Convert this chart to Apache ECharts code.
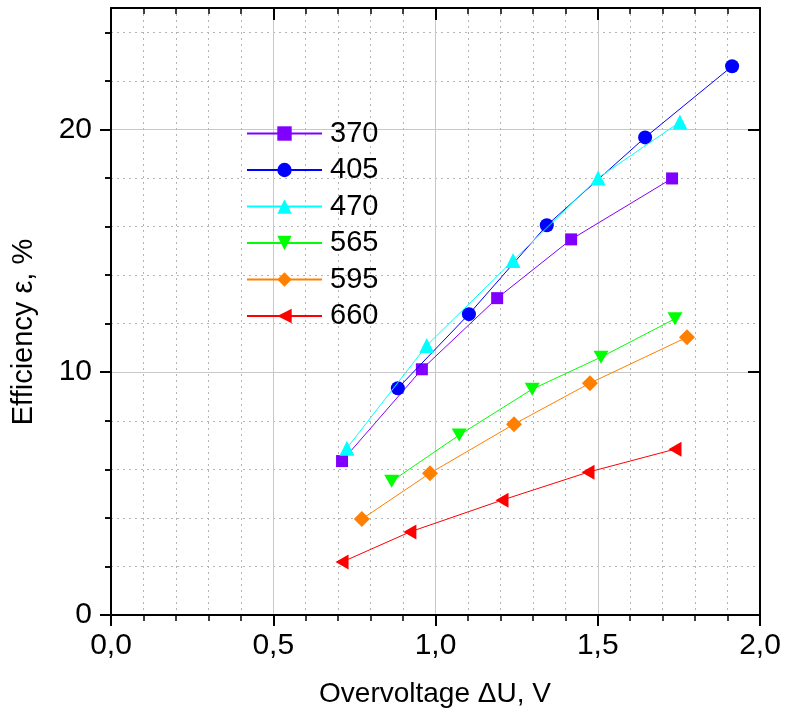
<!DOCTYPE html>
<html><head><meta charset="utf-8">
<script src="https://cdn.jsdelivr.net/npm/echarts@6/dist/echarts.min.js"></script>
<style>html,body{margin:0;padding:0;background:#fff}#c{width:786px;height:713px}</style>
</head><body><div id="c"></div>
<script>
const seriesNames = ['370', '405', '470', '565', '595', '660'];
const x370 = [0.712, 0.958, 1.190, 1.418, 1.729];
const y370 = [6.34, 10.12, 13.05, 15.47, 17.98];
const x405 = [0.884, 1.103, 1.343, 1.646, 1.914];
const y405 = [9.34, 12.39, 16.05, 19.67, 22.60];
const x470 = [0.727, 0.973, 1.239, 1.501, 1.753];
const y470 = [6.87, 11.10, 14.60, 18.00, 20.30];
const x565 = [0.865, 1.073, 1.298, 1.510, 1.738];
const y565 = [5.51, 7.41, 9.30, 10.62, 12.20];
const x595 = [0.773, 0.983, 1.242, 1.476, 1.775];
const y595 = [3.95, 5.84, 7.86, 9.55, 11.44];
const x660 = [0.712, 0.921, 1.205, 1.470, 1.738];
const y660 = [2.18, 3.42, 4.73, 5.88, 6.83];
const yMajorTicks = [0, 10, 20];
const yMinorTicks = [2, 4, 6, 8, 12, 14, 16, 18, 22, 24];
const xTitle = 'Overvoltage \u0394U, V';
const yTitle = 'Efficiency \u03b5, %';

const FONT = "'Liberation Sans', Arial, sans-serif";
const pairs = (xs, ys) => xs.map((x, i) => [x, ys[i]]);
const styles = [
  {c: '#8000FF', s: 'rect', size: 12, rot: 0},
  {c: '#0000FF', s: 'circle', size: 14, rot: 0},
  {c: '#00FFFF', s: 'triangle', size: 15, rot: 0},
  {c: '#00FF00', s: 'triangle', size: [15, 13], rot: 180},
  {c: '#FF8000', s: 'diamond', size: 16, rot: 0},
  {c: '#FF0000', s: 'triangle', size: [15, 13], rot: 90}
];
const datas = [pairs(x370, y370), pairs(x405, y405), pairs(x470, y470),
               pairs(x565, y565), pairs(x595, y595), pairs(x660, y660)];

const chart = echarts.init(document.getElementById('c'), null, {renderer: 'canvas'});
const black = '#000';
const gridGray = '#c8c8c8';
const dotGray = '#b4b4b4';

const option = {
  animation: false,
  backgroundColor: '#fff',
  grid: {left: 111, right: 26, top: 8, bottom: 98, containLabel: false},
  legend: {
    orient: 'vertical', left: 246, top: 119, padding: 0,
    itemWidth: 75, itemHeight: 18, itemGap: 7.5,
    data: seriesNames,
    textStyle: {fontFamily: FONT, fontSize: 29, color: black, lineHeight: 28, padding: [0, 0, 0, 3]}
  },
  xAxis: [
    {
      type: 'value', position: 'bottom', min: 0, max: 2, interval: 0.5,
      axisLine: {show: true, onZero: false, lineStyle: {color: black, width: 2}},
      axisTick: {show: true, inside: false, length: 11, lineStyle: {color: black, width: 2}},
      minorTick: {show: true, splitNumber: 5, length: 6, lineStyle: {color: black, width: 1.5}},
      splitLine: {show: true, lineStyle: {color: gridGray, width: 1}},
      minorSplitLine: {show: true, lineStyle: {color: dotGray, width: 1, type: [2, 4]}},
      axisLabel: {show: true, margin: 16, fontFamily: FONT, fontSize: 30, color: black,
        formatter: v => v.toFixed(1).replace('.', ',')}
    },
    {
      type: 'value', position: 'top', min: 0, max: 2, interval: 0.5,
      axisLine: {show: true, onZero: false, lineStyle: {color: black, width: 2}},
      axisTick: {show: true, inside: true, length: 12, lineStyle: {color: black, width: 2}},
      minorTick: {show: true, splitNumber: 5, length: 6, lineStyle: {color: black, width: 1.5}},
      splitLine: {show: false},
      axisLabel: {show: false}
    }
  ],
  yAxis: [
    {
      type: 'value', position: 'left', min: 0, max: 25, interval: 10,
      axisLine: {show: true, onZero: false, lineStyle: {color: black, width: 2}},
      axisTick: {show: true, inside: false, length: 11, customValues: yMajorTicks, lineStyle: {color: black, width: 2}},
      splitLine: {show: true, lineStyle: {color: gridGray, width: 1}},
      axisLabel: {show: true, margin: 19, customValues: yMajorTicks, fontFamily: FONT, fontSize: 30, color: black}
    },
    {
      type: 'value', position: 'left', min: 0, max: 25, interval: 2,
      axisLine: {show: false},
      axisTick: {show: true, inside: false, length: 6, customValues: yMinorTicks, lineStyle: {color: black, width: 1.5}},
      splitLine: {show: true, lineStyle: {color: dotGray, width: 1, type: [2, 4]}},
      axisLabel: {show: false}
    },
    {
      type: 'value', position: 'right', min: 0, max: 25, interval: 10,
      axisLine: {show: true, onZero: false, lineStyle: {color: black, width: 2}},
      axisTick: {show: true, inside: true, length: 12, customValues: yMajorTicks, lineStyle: {color: black, width: 2}},
      splitLine: {show: false},
      axisLabel: {show: false}
    },
    {
      type: 'value', position: 'right', min: 0, max: 25, interval: 2,
      axisLine: {show: false},
      axisTick: {show: true, inside: true, length: 6, customValues: yMinorTicks, lineStyle: {color: black, width: 1.5}},
      splitLine: {show: false},
      axisLabel: {show: false}
    }
  ],
  graphic: [
    {type: 'text', x: 435, y: 694, style: {text: xTitle, fontFamily: FONT, fontSize: 28, fill: black, textAlign: 'center', textVerticalAlign: 'middle'}},
    {type: 'text', x: 24, y: 332, rotation: Math.PI / 2, style: {text: yTitle, fontFamily: FONT, fontSize: 29, fill: black, textAlign: 'center', textVerticalAlign: 'middle'}}
  ],
  series: seriesNames.map((n, i) => ({
    name: n, type: 'line', xAxisIndex: 0, yAxisIndex: 0,
    data: datas[i],
    symbol: styles[i].s, symbolSize: styles[i].size, symbolRotate: styles[i].rot,
    showAllSymbol: true,
    lineStyle: {color: styles[i].c, width: 1},
    itemStyle: {color: styles[i].c, borderWidth: 0},
    color: styles[i].c,
    emphasis: {disabled: true},
    z: 3 + i
  }))
};
chart.setOption(option);
</script></body></html>
